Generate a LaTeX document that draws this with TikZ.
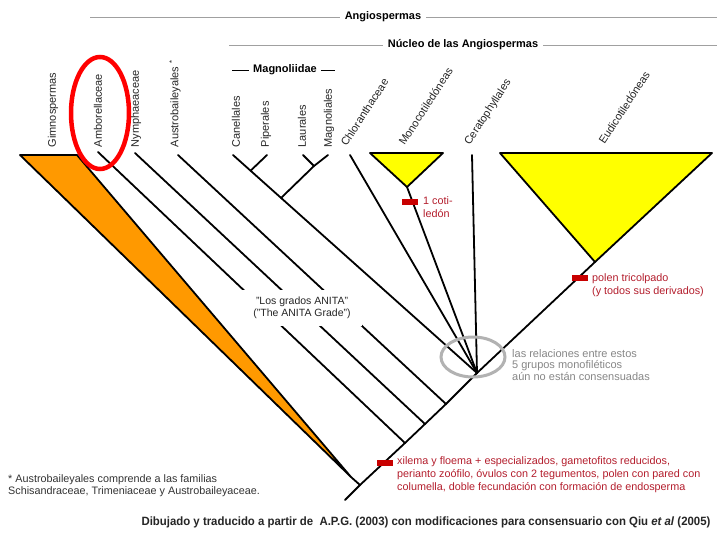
\documentclass[tikz,border=0pt]{standalone}
\usepackage{fontspec}
\setmainfont{Liberation Sans}
\newfontfamily\narrowfont[FakeStretch=0.95]{Liberation Sans}
\usetikzlibrary{calc}
\definecolor{gymno}{RGB}{255,153,0}
\definecolor{monoc}{RGB}{255,255,0}
\definecolor{apo}{RGB}{180,30,45}
\definecolor{apobar}{RGB}{200,0,0}
\definecolor{rulegray}{RGB}{160,160,160}
\definecolor{notegray}{RGB}{135,135,135}

\begin{document}
\begin{tikzpicture}[x=1pt,y=-1pt]
\tikzstyle{branch}=[line width=1.8pt,line cap=round,line join=round]
\tikzstyle{clade}=[draw=black,line width=1.8pt,line join=round]
\tikzstyle{taxon}=[inner sep=0.5pt,font=\fontsize{11}{12}\selectfont,text=black!85]
\tikzstyle{upright}=[taxon,rotate=90,anchor=west]
\tikzstyle{slant}=[taxon,rotate=57,anchor=south west]
\tikzstyle{group}=[inner ysep=1pt,inner xsep=5pt,font=\bfseries\fontsize{11}{12}\selectfont]
\tikzstyle{grouprule}=[draw=rulegray,line width=0.8pt]
\tikzstyle{apomorphy}=[inner sep=0pt,anchor=north west,align=left,text=apo,font=\fontsize{10.8}{13}\selectfont]
\tikzstyle{synapo}=[fill=apobar]
\tikzstyle{note}=[inner sep=0pt,anchor=north west,align=left,font=\fontsize{10.8}{12.5}\selectfont]
\useasboundingbox (0,0) rectangle (720,540);
\fill[white] (0,0) rectangle (720,540);

\coordinate (root) at (345,500);
\coordinate (nGym) at (360,485);
\coordinate (nAmb) at (405,443);
\coordinate (nNym) at (425,424);
\coordinate (nAus) at (446,404);
\coordinate (nCore) at (477,373);
\coordinate (tAmb) at (98,152);
\coordinate (tNym) at (135,153);
\coordinate (tAus) at (178,155);
\coordinate (tCan) at (233,155);
\coordinate (tPip) at (267,155);
\coordinate (tLau) at (303,155);
\coordinate (tMag) at (328,155);
\coordinate (jLM) at (314,166);
\coordinate (jCP) at ($(tCan)!0.072!(nCore)$);
\coordinate (jMag) at ($(tCan)!0.197!(nCore)$);
\coordinate (tChl) at (350,155);
\coordinate (tCer) at (472,155);
\coordinate (gymA) at (20,155);
\coordinate (gymB) at (77,155);
\coordinate (gymC) at (351,477);
\coordinate (monA) at (370,153);
\coordinate (monB) at (443,153);
\coordinate (monC) at (407,187);
\coordinate (eudA) at (500,153);
\coordinate (eudB) at (712,153);
\coordinate (eudC) at (595,262);

\filldraw[clade,fill=gymno] (gymA) -- (gymB) -- (gymC) -- cycle;
\filldraw[clade,fill=monoc] (monA) -- (monB) -- (monC) -- cycle;
\filldraw[clade,fill=monoc] (eudA) -- (eudB) -- (eudC) -- cycle;
\draw[branch] (gymC) -- (nGym);
\draw[branch] (root) -- (nGym) -- (nAmb) -- (nNym) -- (nAus) -- (nCore) -- (eudC);
\draw[branch] (tAmb) -- (nAmb);
\draw[branch] (tNym) -- (nNym);
\draw[branch] (tAus) -- (nAus);
\draw[branch] (tCan) -- (nCore);
\draw[branch] (tPip) -- (jCP);
\draw[branch] (tLau) -- (jLM) -- (tMag);
\draw[branch] (jLM) -- (jMag);
\draw[branch] (tChl) -- (nCore);
\draw[branch] (monC) -- (nCore);
\draw[branch] (tCer) -- (nCore);

\node[upright] (Gim) at (53,148) {Gimnospermas};
\node[upright] (Amb) at (98,148) {Amborellaceae};
\node[upright] (Nym) at (136,148) {Nymphaeaceae};
\node[upright] (Aus) at (175,148) {Austrobaileyales \textsuperscript{*}};
\node[upright] (Can) at (236,148) {Canellales};
\node[upright] (Pip) at (266,148) {Piperales};
\node[upright] (Lau) at (302,148) {Laurales};
\node[upright] (Mag) at (329,148) {Magnoliales};
\node[slant] (Chl) at (347,148) {Chloranthaceae};
\node[slant] (Mon) at (405,147) {Monocotiledóneas};
\node[slant] (Cer) at (472,148) {Ceratophyllales};
\node[slant] (Eud) at (605,146) {Eudicotiledóneas};

\coordinate (angL) at (90,17);
\coordinate (angR) at (717,17);
\coordinate (nucL) at (229,45);
\coordinate (nucR) at (717,45);
\coordinate (magL) at (232,70);
\coordinate (magR) at (335,70);
\node[group] (Angio) at (383,17) {Angiospermas};
\node[group] (Nucleo) at (463,45) {Núcleo de las Angiospermas};
\node[group,inner xsep=4pt] (Magno) at (285,70) {Magnoliidae};
\draw[grouprule] (angL) -- (Angio);
\draw[grouprule] (Angio) -- (angR);
\draw[grouprule] (nucL) -- (Nucleo);
\draw[grouprule] (Nucleo) -- (nucR);
\draw[line width=0.9pt] (magL) -- (Magno);
\draw[line width=0.9pt] (Magno) -- (magR);

\node[fill=white,minimum width=120pt,minimum height=36pt,align=center,text=black!85,font=\fontsize{10.5}{12}\selectfont] (anita) at (302,308) {"Los grados ANITA"\\("The ANITA Grade")};

\fill[synapo] (377,460) rectangle (393,466);
\fill[synapo] (402,199) rectangle (418,205);
\fill[synapo] (572,275) rectangle (588,281);
\node[apomorphy] (coti) at (423,196) {1 coti-\\ledón};
\node[apomorphy] (polen) at (592,273) {polen tricolpado\\(y todos sus derivados)};
\node[apomorphy] (xilema) at (397,456) {xilema y floema + especializados, gametofitos reducidos,\\perianto zoófilo, óvulos con 2 tegumentos, polen con pared con\\columella, doble fecundación con formación de endosperma};

\draw[draw=black!30,line width=3pt] (473,357) ellipse [x radius=32pt,y radius=20pt];
\node[note,text=notegray,font=\fontsize{11}{11.5}\selectfont] (unresolved) at (512,349) {las relaciones entre estos\\5 grupos monofiléticos\\aún no están consensuadas};

\node[note,text=black!80] (footnote) at (8,474) {* Austrobaileyales comprende a las familias\\Schisandraceae, Trimeniaceae y Austrobaileyaceae.};
\node[font=\narrowfont\bfseries\fontsize{12}{14}\selectfont,text=black!85] (credit) at (426,522) {Dibujado y traducido a partir de \ A.P.G. (2003) con modificaciones para consensuario con Qiu \textit{et al} (2005)};

\draw[red,line width=4.5pt] (100,113) ellipse [x radius=29pt,y radius=56pt];
\end{tikzpicture}
\end{document}
